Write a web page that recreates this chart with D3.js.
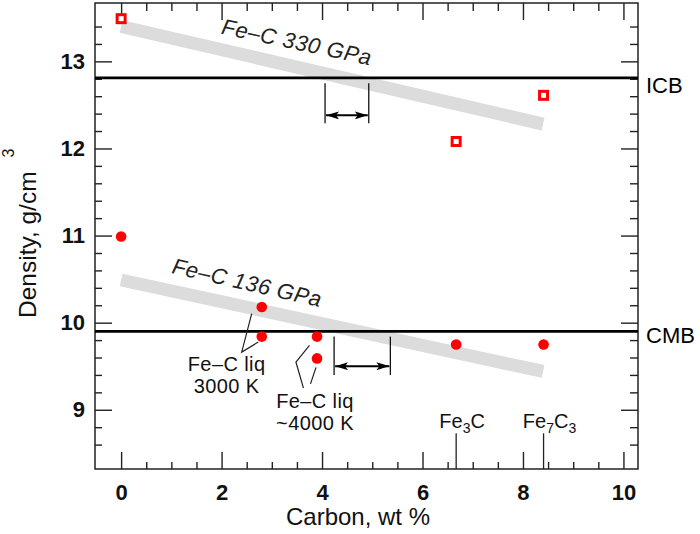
<!DOCTYPE html>
<html>
<head>
<meta charset="utf-8">
<script src="https://cdn.jsdelivr.net/npm/d3@7"></script>
<style>
  body { margin: 0; background: #fff; }
  svg { display: block; font-family: "Liberation Sans", Arial, Helvetica, sans-serif; }
  .tick text { font-weight: bold; font-size: 22px; fill: #111; }
  .tick line { stroke: #222; stroke-width: 1.4; }
  .note { font-size: 20px; fill: #111; letter-spacing: 0.4px; }
</style>
</head>
<body>
<div id="chart-container"></div>
<script>
/* Density of Fe-C vs carbon content at 136 and 330 GPa */

// measured densities, 330 GPa (open squares)
const carbon330 = [0, 6.67, 8.41];
const density330 = [13.49, 12.08, 12.61];

// measured densities, 136 GPa (filled circles)
const carbon136 = [0, 2.8, 2.8, 3.9, 3.9, 6.67, 8.41];
const density136 = [10.99, 10.18, 9.84, 9.84, 9.59, 9.75, 9.75];

// grey trend bands (start, end)
const bandCarbon = [0, 8.4];
const band330 = [13.4, 12.28];
const band136 = [10.49, 9.44];

// boundaries
const boundaryNames = ["ICB", "CMB"];
const boundaryDensity = [12.81, 9.9];

// carbide compositions
const phaseCarbon = [6.67, 8.41];
const phaseMain = [["Fe", "3", "C", ""], ["Fe", "7", "C", "3"]];

const xTicks = [0, 2, 4, 6, 8, 10];
const yTicks = [9, 10, 11, 12, 13];

function create_chart() {
  let width = 700,
    height = 534,
    margin = { top: 3, right: 62, bottom: 65, left: 95 };

  const svg = d3
    .select("#chart-container")
    .append("svg")
    .attr("width", width)
    .attr("height", height);

  let x = d3
    .scaleLinear()
    .domain([-0.52, 10.29])
    .range([margin.left, width - margin.right]);

  let y = d3
    .scaleLinear()
    .domain([8.32, 13.67])
    .range([height - margin.bottom, margin.top]);

  let xMinor = d3.range(1, 21).map((d) => d / 2).filter((d) => d % 2 !== 0);
  let yMinor = d3.range(43, 68).map((d) => d / 5).filter((d) => Math.abs(d - Math.round(d)) > 0.01);

  // grey bands
  [band330, band136].forEach((b) => {
    svg
      .append("line")
      .attr("x1", x(bandCarbon[0]))
      .attr("y1", y(b[0]))
      .attr("x2", x(bandCarbon[1]))
      .attr("y2", y(b[1]))
      .style("stroke", "#dcdcdc")
      .style("stroke-width", 13);
  });

  // axes, ticks pointing inward on all four sides
  svg
    .append("g")
    .attr("transform", `translate(0,${height - margin.bottom})`)
    .call(d3.axisBottom(x).tickValues(xTicks).tickSize(-17).tickSizeOuter(0).tickPadding(15).tickFormat(d3.format("d")))
    .call((g) => g.select(".domain").remove());
  svg
    .append("g")
    .attr("transform", `translate(0,${height - margin.bottom})`)
    .call(d3.axisBottom(x).tickValues(xMinor).tickSize(-7).tickFormat(""))
    .call((g) => g.select(".domain").remove());
  svg
    .append("g")
    .attr("transform", `translate(0,${margin.top})`)
    .call(d3.axisTop(x).tickValues(xTicks).tickSize(-17).tickFormat(""))
    .call((g) => g.select(".domain").remove());
  svg
    .append("g")
    .attr("transform", `translate(0,${margin.top})`)
    .call(d3.axisTop(x).tickValues(xMinor).tickSize(-8).tickFormat(""))
    .call((g) => g.select(".domain").remove());

  svg
    .append("g")
    .attr("transform", `translate(${margin.left},0)`)
    .call(d3.axisLeft(y).tickValues(yTicks).tickSize(-17).tickPadding(10).tickFormat(d3.format("d")))
    .call((g) => g.select(".domain").remove());
  svg
    .append("g")
    .attr("transform", `translate(${margin.left},0)`)
    .call(d3.axisLeft(y).tickValues(yMinor).tickSize(-7).tickFormat(""))
    .call((g) => g.select(".domain").remove());
  svg
    .append("g")
    .attr("transform", `translate(${width - margin.right},0)`)
    .call(d3.axisRight(y).tickValues(yTicks).tickSize(-17).tickFormat(""))
    .call((g) => g.select(".domain").remove());
  svg
    .append("g")
    .attr("transform", `translate(${width - margin.right},0)`)
    .call(d3.axisRight(y).tickValues(yMinor).tickSize(-8).tickFormat(""))
    .call((g) => g.select(".domain").remove());

  svg
    .append("rect")
    .attr("x", margin.left)
    .attr("y", margin.top)
    .attr("width", width - margin.left - margin.right)
    .attr("height", height - margin.top - margin.bottom)
    .style("fill", "none")
    .style("stroke", "#222")
    .style("stroke-width", 1.5);

  // ICB / CMB lines
  svg
    .selectAll(".boundary")
    .data(boundaryDensity)
    .join("line")
    .attr("class", "boundary")
    .attr("x1", margin.left)
    .attr("x2", width - margin.right)
    .attr("y1", (d) => y(d))
    .attr("y2", (d) => y(d))
    .style("stroke", "#000")
    .style("stroke-width", 2.6);

  svg
    .selectAll(".boundary-label")
    .data(boundaryNames)
    .join("text")
    .attr("class", "boundary-label")
    .attr("x", width - margin.right + 8)
    .attr("y", (d, i) => y(boundaryDensity[i]) + (i === 0 ? 15 : 12))
    .style("font-size", "22px")
    .style("fill", "#000")
    .text((d) => d);

  // band labels
  let bandLabels = [
    { t: "Fe\u2013C 330 GPa", c: 3.5, d: 13.226, a: 12 },
    { t: "Fe\u2013C 136 GPa", c: 2.51, d: 10.463, a: 13 },
  ];
  svg
    .selectAll(".band-label")
    .data(bandLabels)
    .join("text")
    .attr("class", "band-label")
    .attr("transform", (d) => `translate(${x(d.c)},${y(d.d)}) rotate(${d.a})`)
    .attr("text-anchor", "middle")
    .attr("dy", "0.36em")
    .style("font-size", "22px")
    .style("font-style", "italic")
    .style("letter-spacing", "0.5px")
    .style("fill", "#222")
    .text((d) => d.t);

  // bracket annotations with double arrows
  svg
    .append("defs")
    .append("marker")
    .attr("id", "head")
    .attr("markerUnits", "userSpaceOnUse")
    .attr("markerWidth", 13)
    .attr("markerHeight", 8)
    .attr("refX", 13)
    .attr("refY", 4)
    .attr("orient", "auto-start-reverse")
    .append("path")
    .attr("d", "M0,0 L13,4 L0,8 L3,4 Z")
    .style("fill", "#000");

  let brackets = [
    { lo: 4.06, hi: 4.93, top: 12.75, bot: 12.29, arrow: 12.38 },
    { lo: 4.24, hi: 5.36, top: 9.84, bot: 9.4, arrow: 9.5 },
  ];
  brackets.forEach((b) => {
    [b.lo, b.hi].forEach((c) => {
      svg
        .append("line")
        .attr("x1", x(c))
        .attr("x2", x(c))
        .attr("y1", y(b.top))
        .attr("y2", y(b.bot))
        .style("stroke", "#111")
        .style("stroke-width", 1.3);
    });
    svg
      .append("line")
      .attr("x1", x(b.lo) + 1)
      .attr("x2", x(b.hi) - 1)
      .attr("y1", y(b.arrow))
      .attr("y2", y(b.arrow))
      .attr("marker-start", "url(#head)")
      .attr("marker-end", "url(#head)")
      .style("stroke", "#000")
      .style("stroke-width", 2);
  });

  // leader lines to the liquid points
  let leaders = [
    [[2.6, 10.103], [2.4, 9.662], [2.73, 9.777]],
    [[3.75, 9.739], [3.48, 9.548], [3.63, 9.249]],
    [[3.88, 9.487], [3.77, 9.297]],
  ];
  svg
    .selectAll(".leader")
    .data(leaders)
    .join("path")
    .attr("class", "leader")
    .attr("d", d3.line().x((d) => x(d[0])).y((d) => y(d[1])))
    .style("fill", "none")
    .style("stroke", "#222")
    .style("stroke-width", 1.2);

  let notes = [
    { c: 2.1, d: 9.444, l: ["Fe\u2013C liq", "3000 K"] },
    { c: 3.86, d: 9.02, l: ["Fe\u2013C liq", "~4000 K"] },
  ];
  notes.forEach((n) => {
    svg
      .append("text")
      .attr("class", "note")
      .attr("text-anchor", "middle")
      .selectAll("tspan")
      .data(n.l)
      .join("tspan")
      .attr("x", x(n.c))
      .attr("y", (d, i) => y(n.d) + i * 22)
      .text((d) => d);
  });

  // carbide composition markers
  svg
    .selectAll(".phase")
    .data(phaseCarbon)
    .join("line")
    .attr("class", "phase")
    .attr("x1", (d) => x(d))
    .attr("x2", (d) => x(d))
    .attr("y1", y(8.73))
    .attr("y2", height - margin.bottom)
    .style("stroke", "#222")
    .style("stroke-width", 1.3);

  phaseMain.forEach((p, i) => {
    let t = svg
      .append("text")
      .attr("class", "note")
      .attr("x", x(phaseCarbon[i]) + 6)
      .attr("y", y(8.73) - 5)
      .attr("text-anchor", "middle")
      .style("letter-spacing", "0px");
    t.append("tspan").text(p[0]);
    t.append("tspan").attr("dy", 5).style("font-size", "14px").text(p[1]);
    t.append("tspan").attr("dy", -5).text(p[2]);
    if (p[3]) t.append("tspan").attr("dy", 5).style("font-size", "14px").text(p[3]);
  });

  // data points
  svg
    .selectAll(".circ")
    .data(carbon136)
    .join("circle")
    .attr("class", "circ")
    .attr("cx", (d) => x(d))
    .attr("cy", (d, i) => y(density136[i]))
    .attr("r", 5.3)
    .style("fill", "#ff0000");

  svg
    .selectAll(".sq")
    .data(carbon330)
    .join("rect")
    .attr("class", "sq")
    .attr("x", (d) => x(d) - 4)
    .attr("y", (d, i) => y(density330[i]) - 4)
    .attr("width", 8)
    .attr("height", 8)
    .style("fill", "#fff")
    .style("stroke", "#ff0000")
    .style("stroke-width", 3);

  // axis titles
  svg
    .append("text")
    .attr("text-anchor", "middle")
    .attr("x", 358)
    .attr("y", height - 9)
    .style("font-size", "24px")
    .style("fill", "#111")
    .text("Carbon, wt %");

  let yl = svg
    .append("text")
    .attr("transform", `translate(36,318) rotate(-90)`)
    .attr("text-anchor", "start")
    .style("font-size", "24.5px")
    .style("fill", "#111");
  yl.append("tspan").text("Density, g/cm");
  yl.append("tspan").attr("dx", 14).attr("dy", -22).style("font-size", "16px").text("3");
}

create_chart();
</script>
</body>
</html>
